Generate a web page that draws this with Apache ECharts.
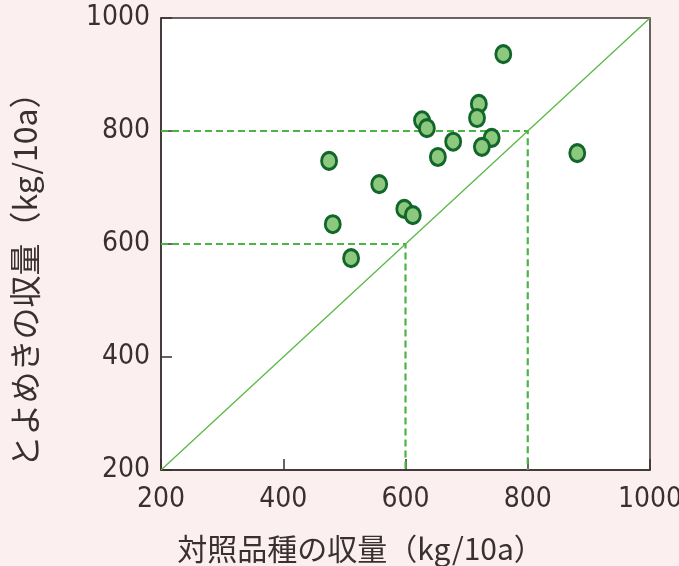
<!DOCTYPE html>
<html>
<head>
<meta charset="utf-8">
<script src="https://cdn.jsdelivr.net/npm/echarts@6/dist/echarts.min.js"></script>
<style>
  html, body { margin: 0; padding: 0; background: #fbefef; }
  #chart { width: 679px; height: 566px; }
</style>
</head>
<body>
<div id="chart"></div>
<script>
// 対照品種 (x) と とよめき (y) の収量, kg/10a
var controlYield = [760, 720, 717, 627, 635, 678, 741, 725, 653, 475, 557, 598, 612, 481, 511, 881];
var toyomekiYield = [936, 848, 823, 819, 805, 781, 788, 772, 754, 747, 706, 662, 651, 635, 575, 761];
var tickValues = [200, 400, 600, 800, 1000];

// 1:1 line and guide lines
var diagLine = [[200, 200], [1000, 1000]];
var guide600 = [[200, 600], [600, 600], [600, 200]];
var guide800 = [[200, 800], [800, 800], [800, 200]];

var points = controlYield.map(function (x, i) { return [x, toyomekiYield[i]] });

var numFont = "'DejaVu Sans Condensed', Roboto, sans-serif";
var jpFont = "'Noto Sans CJK JP', sans-serif";
var ink = '#3a3030';

var axisCommon = {
    type: 'value',
    min: 200,
    max: 1000,
    interval: 200,
    splitLine: {show: false},
    axisLine: {show: true, lineStyle: {color: ink, width: 1.5}},
    axisTick: {show: true, inside: true, length: 11, lineStyle: {color: ink, width: 1.5}},
    axisLabel: {
        color: ink, fontFamily: numFont, fontSize: 28,
        formatter: function (v) { return tickValues.indexOf(v) >= 0 ? String(v) : '' }
    }
};

var chart = echarts.init(document.getElementById('chart'));
chart.setOption({
    backgroundColor: '#fbefef',
    animation: false,
    grid: {
        left: 161, right: 29, top: 18, bottom: 96,
        outerBoundsMode: 'none',
        show: true, backgroundColor: '#ffffff', borderColor: ink, borderWidth: 1.5
    },
    xAxis: Object.assign({}, axisCommon, {
        axisLabel: Object.assign({}, axisCommon.axisLabel, {margin: 16}),
        name: '対照品種の収量（kg/10a）',
        nameLocation: 'middle',
        nameGap: 64,
        nameTextStyle: {color: ink, fontFamily: jpFont, fontSize: 30, padding: [0, 90, 0, 0]}
    }),
    yAxis: Object.assign({}, axisCommon, {
        axisLabel: Object.assign({}, axisCommon.axisLabel, {margin: 11}),
        name: 'とよめきの収量（kg/10a）',
        nameLocation: 'middle',
        nameGap: 120,
        nameRotate: 90,
        nameTextStyle: {color: ink, fontFamily: jpFont, fontSize: 32, padding: [0, 56, 0, 0]}
    }),
    series: [
        {
            type: 'line', data: diagLine, symbol: 'none', silent: true,
            lineStyle: {color: '#5ab846', width: 1.3}, z: 2
        },
        {
            type: 'line', data: guide600, symbol: 'none', silent: true,
            lineStyle: {color: '#4cb444', width: 2.2, type: [7, 4]}, z: 2
        },
        {
            type: 'line', data: guide800, symbol: 'none', silent: true,
            lineStyle: {color: '#4cb444', width: 2.2, type: [7, 4]}, z: 2
        },
        {
            type: 'scatter', data: points,
            symbol: 'circle', symbolSize: [15, 17],
            itemStyle: {color: '#8cc87e', borderColor: '#11662a', borderWidth: 3, opacity: 1},
            z: 5
        }
    ]
});
</script>
</body>
</html>
